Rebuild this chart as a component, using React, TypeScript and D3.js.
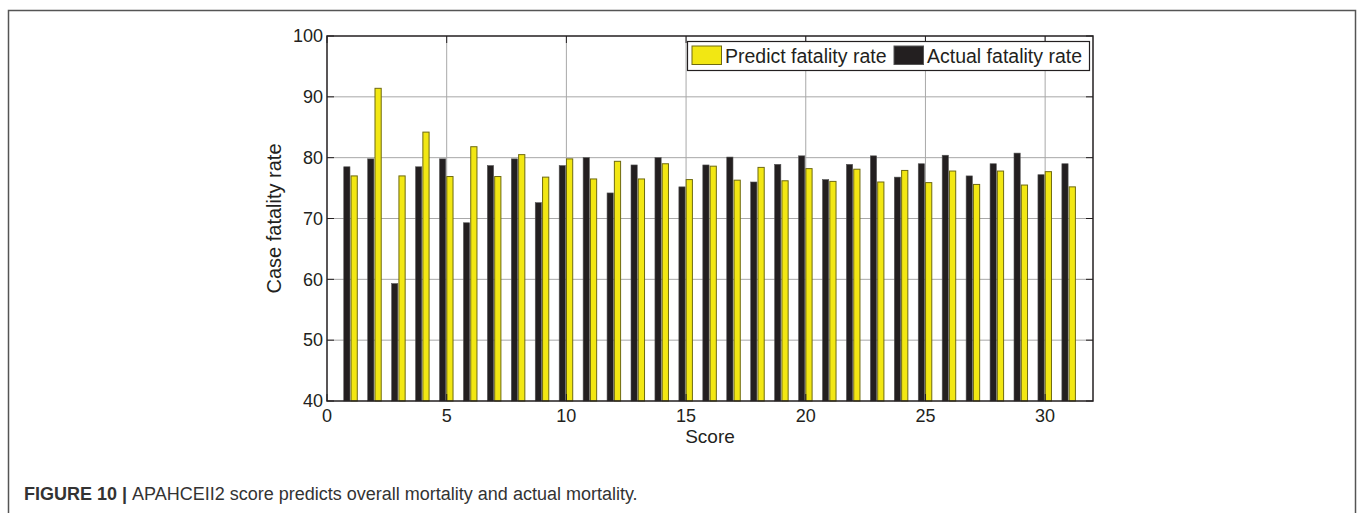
import React, { useRef, useEffect } from 'react';
import * as d3 from 'd3';

// scores 1..31
const scores = d3.range(1, 32);
const actualRate = [78.5, 79.8, 59.3, 78.5, 79.8, 69.3, 78.7, 79.8, 72.6, 78.7, 80.0, 74.2, 78.8, 80.0, 75.2, 78.8,
  80.1, 76.0, 78.9, 80.3, 76.4, 78.9, 80.3, 76.8, 79.0, 80.4, 77.0, 79.0, 80.75, 77.2, 79.0];
const predictRate = [77.0, 91.4, 77.0, 84.2, 76.9, 81.8, 76.9, 80.5, 76.8, 79.8, 76.5, 79.4, 76.5, 79.0, 76.4, 78.6,
  76.3, 78.4, 76.2, 78.2, 76.1, 78.1, 76.0, 77.9, 75.9, 77.8, 75.6, 77.8, 75.5, 77.7, 75.2];
const yTicks = [40, 50, 60, 70, 80, 90, 100];
const xTicks = [0, 5, 10, 15, 20, 25, 30];
const seriesNames = ['Predict fatality rate', 'Actual fatality rate'];

const App = () => {
  const svgRef = useRef(null);

  useEffect(() => {
    const svg = d3.select(svgRef.current);
    svg.selectAll('*').remove();

    const width = 1357;
    const height = 513;
    const left = 327, right = 1093, top = 36, bottom = 401;
    const font = 'Liberation Sans, Arial, Helvetica, sans-serif';
    const ink = '#231f20';

    svg.attr('width', width).attr('height', height);

    // outer figure frame
    svg.append('rect')
      .attr('x', 8.5).attr('y', 10.5)
      .attr('width', 1347).attr('height', 520)
      .attr('fill', 'none').attr('stroke', '#555').attr('stroke-width', 1.5);

    const xScale = d3.scaleLinear().domain([0, 32]).range([left, right]);
    const yScale = d3.scaleLinear().domain([40, 100]).range([bottom, top]);

    // grid
    svg.append('g').selectAll('line').data(yTicks.slice(1, -1)).join('line')
      .attr('x1', left).attr('x2', right)
      .attr('y1', d => yScale(d)).attr('y2', d => yScale(d))
      .attr('stroke', '#a8a8a8').attr('stroke-width', 1);
    svg.append('g').selectAll('line').data(xTicks.slice(1)).join('line')
      .attr('x1', d => xScale(d)).attr('x2', d => xScale(d))
      .attr('y1', top).attr('y2', bottom)
      .attr('stroke', '#a8a8a8').attr('stroke-width', 1);

    // bars: actual left of score, predicted right
    const bw = xScale(0.26) - xScale(0);
    svg.append('g').selectAll('rect').data(scores).join('rect')
      .attr('x', (d) => xScale(d - 0.3))
      .attr('y', (d, i) => yScale(actualRate[i]))
      .attr('width', bw)
      .attr('height', (d, i) => yScale(40) - yScale(actualRate[i]))
      .attr('fill', ink).attr('stroke', '#555').attr('stroke-width', 0.6);
    svg.append('g').selectAll('rect').data(scores).join('rect')
      .attr('x', (d) => xScale(d + 0.005))
      .attr('y', (d, i) => yScale(predictRate[i]))
      .attr('width', bw)
      .attr('height', (d, i) => yScale(40) - yScale(predictRate[i]))
      .attr('fill', '#f2e713').attr('stroke', '#6e6a10').attr('stroke-width', 1);

    // axes box
    svg.append('rect')
      .attr('x', left).attr('y', top)
      .attr('width', right - left).attr('height', bottom - top)
      .attr('fill', 'none').attr('stroke', ink).attr('stroke-width', 1.5);

    // inward ticks
    const tickLen = 7;
    const tg = svg.append('g').attr('stroke', ink).attr('stroke-width', 1);
    yTicks.forEach(t => {
      tg.append('line').attr('x1', left).attr('x2', left + tickLen).attr('y1', yScale(t)).attr('y2', yScale(t));
      tg.append('line').attr('x1', right).attr('x2', right - tickLen).attr('y1', yScale(t)).attr('y2', yScale(t));
    });
    xTicks.forEach(t => {
      tg.append('line').attr('x1', xScale(t)).attr('x2', xScale(t)).attr('y1', bottom).attr('y2', bottom - tickLen);
      tg.append('line').attr('x1', xScale(t)).attr('x2', xScale(t)).attr('y1', top).attr('y2', top + tickLen);
    });

    // tick labels
    svg.append('g').selectAll('text').data(yTicks).join('text')
      .attr('x', left - 4).attr('y', d => yScale(d)).attr('dy', '0.35em')
      .attr('text-anchor', 'end').attr('font-family', font).attr('font-size', 18).attr('fill', ink)
      .text(d => d);
    svg.append('g').selectAll('text').data(xTicks).join('text')
      .attr('x', d => xScale(d)).attr('y', 416).attr('dy', '0.35em')
      .attr('text-anchor', 'middle').attr('font-family', font).attr('font-size', 18).attr('fill', ink)
      .text(d => d);

    // axis titles
    svg.append('text')
      .attr('x', (left + right) / 2).attr('y', 436).attr('dy', '0.35em')
      .attr('text-anchor', 'middle').attr('font-family', font).attr('font-size', 19).attr('fill', ink)
      .text('Score');
    svg.append('text')
      .attr('transform', `translate(274, ${(top + bottom) / 2}) rotate(-90)`)
      .attr('dy', '0.35em')
      .attr('text-anchor', 'middle').attr('font-family', font).attr('font-size', 20).attr('fill', ink)
      .text('Case fatality rate');

    // legend
    const lg = svg.append('g');
    lg.append('rect').attr('x', 687.5).attr('y', 41.5).attr('width', 402).attr('height', 29)
      .attr('fill', '#fff').attr('stroke', ink).attr('stroke-width', 1.2);
    const items = [
      { name: seriesNames[0], sx: 692, tx: 725, fill: '#f2e713', stroke: '#6e6a10' },
      { name: seriesNames[1], sx: 894, tx: 927, fill: ink, stroke: '#555' },
    ];
    items.forEach(it => {
      lg.append('rect').attr('x', it.sx).attr('y', 46).attr('width', 29.5).attr('height', 18.5)
        .attr('fill', it.fill).attr('stroke', it.stroke).attr('stroke-width', 1);
      lg.append('text').attr('x', it.tx).attr('y', 56).attr('dy', '0.35em')
        .attr('font-family', font).attr('font-size', 19.5).attr('fill', ink)
        .text(it.name);
    });

    // caption
    const cap = svg.append('text')
      .attr('x', 24).attr('y', 500)
      .attr('font-family', font).attr('font-size', 18).attr('fill', '#333');
    cap.append('tspan').attr('font-weight', 'bold').text('FIGURE 10 | ');
    cap.append('tspan').text('APAHCEII2 score predicts overall mortality and actual mortality.');
  }, []);

  return (
    <svg ref={svgRef} style={{ position: 'absolute', left: 0, top: 0 }}></svg>
  );
};

export default App;
